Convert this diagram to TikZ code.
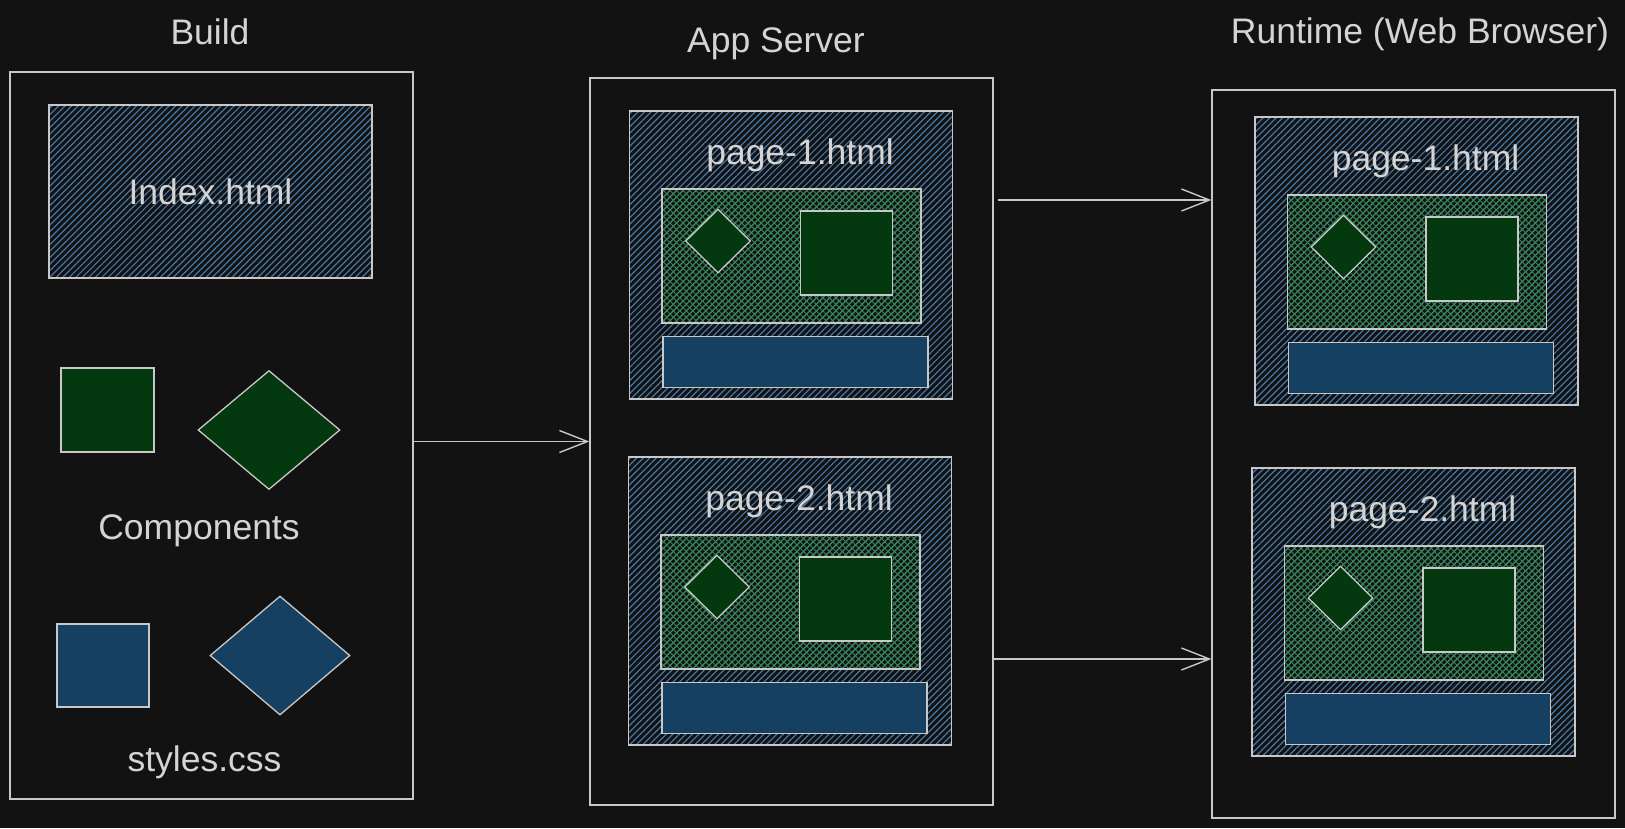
\documentclass[tikz,border=0pt]{standalone}
\usepackage{fontspec}
\setmainfont{Liberation Sans}
\usetikzlibrary{arrows.meta,patterns.meta,shapes.geometric}
\definecolor{bgc}{HTML}{121212}
\definecolor{edgec}{HTML}{C8C8C8}
\definecolor{txtc}{HTML}{D4D4D4}
\definecolor{hatchblue}{HTML}{4677A6}
\definecolor{hatchgreen}{HTML}{348A50}
\definecolor{solidgreen}{HTML}{04380F}
\definecolor{solidblue}{HTML}{154061}
\begin{document}
\begin{tikzpicture}[x=1pt,y=-1pt,
    tfont/.style={font=\fontsize{35.5}{40}\selectfont,text=txtc},
    lbl/.style={tfont,anchor=base,inner sep=0},
    panel/.style={draw=edgec,line width=1.3pt,inner sep=0},
    page/.style={draw=edgec,line width=1.5pt,inner sep=0,
        pattern={Lines[angle=45,distance=4.6pt,line width=1.2pt]},pattern color=hatchblue},
    mesh/.style={draw=edgec,line width=1.5pt,inner sep=0,
        preaction={pattern={Lines[angle=45,distance=4.6pt,line width=0.9pt]},pattern color=hatchgreen},
        pattern={Lines[angle=-45,distance=4.6pt,line width=0.9pt]},pattern color=hatchgreen},
    gbox/.style={draw=edgec,line width=1.3pt,fill=solidgreen,inner sep=0},
    bbox/.style={draw=edgec,line width=1.3pt,fill=solidblue,inner sep=0},
    gdiam/.style={gbox,shape=diamond},
    bdiam/.style={bbox,shape=diamond},
    arr/.style={draw=edgec,line width=1.4pt,-{Straight Barb[length=28pt,width=22pt,line width=1.4pt]}}]
    \useasboundingbox (0,0) rectangle (1625,828);
    \fill[bgc] (0,0) rectangle (1625,828);

    \node[lbl] (buildt) at (210,44) {Build};
    \node[lbl] (appt) at (776,52) {App Server};
    \node[lbl] (rtt) at (1420,43) {Runtime (Web Browser)};

    \node[panel,minimum width=403pt,minimum height=727pt] (build) at (211.5,435.5) {};
    \node[panel,minimum width=403pt,minimum height=727pt] (app) at (791.5,441.5) {};
    \node[panel,minimum width=403pt,minimum height=728pt] (rt) at (1413.5,454) {};

    \node[page,tfont,minimum width=323pt,minimum height=173pt] (index) at (210.5,191.5) {Index.html};
    \node[gbox,minimum width=93pt,minimum height=84pt] (cmpsq) at (107.5,410) {};
    \node[gdiam,minimum width=142pt,minimum height=119pt] (cmpdia) at (269,430) {};
    \node[lbl] (cmpt) at (199,539) {Components};
    \node[bbox,minimum width=92pt,minimum height=83pt] (csssq) at (103,665.5) {};
    \node[bdiam,minimum width=140pt,minimum height=119pt] (cssdia) at (280,655.5) {};
    \node[lbl] (csst) at (204.5,771) {styles.css};

    \foreach \nm/\px/\py/\txt in {a1/791/255/page-1.html,a2/790/601/page-2.html,
        r1/1416.5/261/page-1.html,r2/1413.5/612/page-2.html}{
        \node[page,minimum width=323pt,minimum height=288pt] (\nm) at (\px,\py) {};
        \node[mesh,minimum width=259pt,minimum height=134pt] (\nm-g) at ([shift={(0.5,1)}]\nm.center) {};
        \node[gdiam,minimum width=65pt,minimum height=64pt] (\nm-d) at ([shift={(-73,-14)}]\nm.center) {};
        \node[gbox,minimum width=92pt,minimum height=84pt] (\nm-s) at ([shift={(55.5,-2)}]\nm.center) {};
        \node[bbox,minimum width=265pt,minimum height=51pt] (\nm-b) at ([shift={(4.5,107)}]\nm.center) {};
        \node[lbl] (\nm-t) at ([shift={(9,-91)}]\nm.center) {\txt};
    }

    \coordinate (up) at (0,200);
    \coordinate (lo) at (0,659);
    \draw[arr] ([yshift=-6pt]build.east) -- (app.west);
    \draw[arr] ([xshift=4pt]app.east |- up) -- (rt.west |- up);
    \draw[arr] (app.east |- lo) -- (rt.west |- lo);
\end{tikzpicture}
\end{document}
